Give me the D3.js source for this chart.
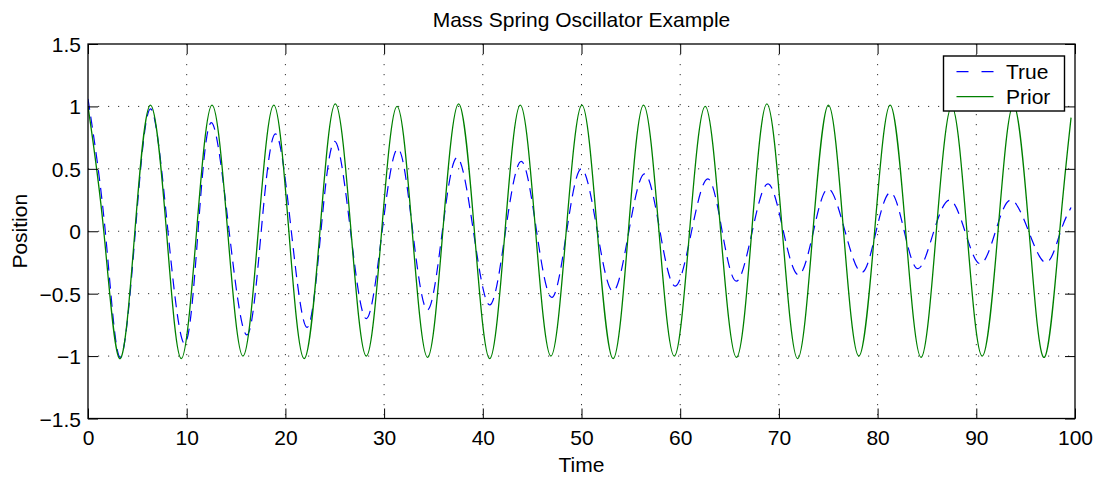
<!DOCTYPE html>
<html>
<head>
<meta charset="utf-8">
<script src="https://cdn.jsdelivr.net/npm/d3@7"></script>
<style>
  body { margin: 0; background: #fff; }
  svg text { font-family: "Liberation Sans", Arial, Helvetica, sans-serif; fill: #000; }
</style>
</head>
<body>
<svg id="chart"></svg>
<script>
// knots (extrema and zero crossings), time in s
const trueTime = [0, 1.75, 3.24,
    4.8, 6.35, 8.1, 9.8,
    11.15, 12.5, 14.3, 16.1,
    17.55, 19.0, 20.6, 22.2,
    23.6, 25.0, 26.6, 28.2,
    29.8, 31.4, 32.9, 34.4,
    35.9, 37.4, 39.05, 40.7,
    42.3, 43.9, 45.45, 47.0,
    48.5, 50.0, 51.6, 53.2,
    54.8, 56.4, 57.95, 59.5,
    61.15, 62.8, 64.25, 65.7,
    67.3, 68.9, 70.45, 72.0,
    73.5, 75.0, 76.7, 78.4,
    79.85, 81.3, 82.7, 84.1,
    85.7, 87.3, 88.85, 90.4,
    91.95, 93.5, 95.3, 97.1,
    98.55, 99.6];
const truePosition = [1.06, 0, -1.01,
    0, 0.98, 0, -0.90,
    0, 0.87, 0, -0.83,
    0, 0.78, 0, -0.77,
    0, 0.72, 0, -0.70,
    0, 0.66, 0, -0.63,
    0, 0.59, 0, -0.59,
    0, 0.56, 0, -0.53,
    0, 0.50, 0, -0.48,
    0, 0.46, 0, -0.44,
    0, 0.42, 0, -0.40,
    0, 0.38, 0, -0.35,
    0, 0.34, 0, -0.33,
    0, 0.31, 0, -0.30,
    0, 0.25, 0, -0.26,
    0, 0.25, 0, -0.25,
    0, 0.19];

const priorTime = [0, 1.6, 3.2, 4.75,
    6.33, 7.95, 9.45, 11.0,
    12.57, 14.15, 15.7, 17.25,
    18.82, 20.35, 21.9, 23.5,
    25.06, 26.65, 28.2, 29.75,
    31.31, 32.85, 34.4, 35.95,
    37.55, 39.15, 40.7, 42.25,
    43.8, 45.35, 46.9, 48.45,
    50.04, 51.6, 53.2, 54.75,
    56.29, 57.85, 59.4, 60.95,
    62.53, 64.1, 65.7, 67.25,
    68.78, 70.35, 71.9, 73.45,
    75.02, 76.55, 78.1, 79.7,
    81.27, 82.85, 84.4, 85.95,
    87.51, 89.05, 90.6, 92.2,
    93.76, 95.35, 96.9, 98.45,
    99.6];
const priorPosition = [1.0, 0, -1.02, 0,
    1.01, 0, -1.02, 0,
    1.01, 0, -1.0, 0,
    1.01, 0, -1.02, 0,
    1.02, 0, -1.0, 0,
    1.0, 0, -1.01, 0,
    1.02, 0, -1.02, 0,
    1.01, 0, -1.0, 0,
    1.01, 0, -1.02, 0,
    1.01, 0, -1.0, 0,
    1.0, 0, -1.01, 0,
    1.02, 0, -1.02, 0,
    1.01, 0, -1.0, 0,
    1.01, 0, -1.01, 0,
    1.0, 0, -1.0, 0,
    1.01, 0, -1.01, 0,
    0.91];

const xTicks = [0, 10, 20, 30, 40, 50, 60, 70, 80, 90, 100];
const yTicks = [-1.5, -1, -0.5, 0, 0.5, 1, 1.5];
const yTickLabels = ["\u22121.5", "\u22121", "\u22120.5", "0", "0.5", "1", "1.5"];
const legendLabels = ["True", "Prior"];

const width = 1097, height = 477;
const margin = {top: 44, right: 22, bottom: 58.5, left: 88};
const plotW = width - margin.left - margin.right;
const plotH = height - margin.top - margin.bottom;

const svg = d3.select("#chart").attr("width", width).attr("height", height);
const g = svg.append("g").attr("transform", `translate(${margin.left},${margin.top})`);

const x = d3.scaleLinear().domain([0, 100]).range([0, plotW]);
const y = d3.scaleLinear().domain([-1.5, 1.5]).range([plotH, 0]);

// dotted grid
g.append("g").selectAll("line")
    .data(xTicks.slice(1, -1))
    .join("line")
    .attr("x1", d => x(d)).attr("x2", d => x(d))
    .attr("y1", 0).attr("y2", plotH)
    .attr("stroke", "#333").attr("stroke-width", 1)
    .attr("stroke-dasharray", "1.2,8.8");
g.append("g").selectAll("line")
    .data(yTicks.slice(1, -1))
    .join("line")
    .attr("y1", d => y(d)).attr("y2", d => y(d))
    .attr("x1", 0).attr("x2", plotW)
    .attr("stroke", "#333").attr("stroke-width", 1)
    .attr("stroke-dasharray", "1.2,8.8");

g.append("clipPath").attr("id", "clip")
    .append("rect").attr("width", plotW).attr("height", plotH);

const line = d3.line()
    .x(d => x(d[0]))
    .y(d => y(d[1]))
    .curve(d3.curveNatural);

const lines = g.append("g").attr("clip-path", "url(#clip)").attr("fill", "none");
lines.append("path")
    .datum(d3.zip(trueTime, truePosition))
    .attr("stroke", "#0000ff")
    .attr("stroke-width", 1.2)
    .attr("stroke-dasharray", "11,7")
    .attr("d", line);
lines.append("path")
    .datum(d3.zip(priorTime, priorPosition))
    .attr("stroke", "#008000")
    .attr("stroke-width", 1.3)
    .attr("d", line);

// axes, ticks pointing inside
const axisFont = g => g.selectAll("text").style("font-size", "21px").attr("fill", "#000");
g.append("g")
    .attr("transform", `translate(0,${plotH})`)
    .call(d3.axisBottom(x).tickValues(xTicks).tickSizeInner(-10).tickSizeOuter(0).tickPadding(12))
    .call(g => g.select(".domain").remove())
    .call(axisFont);
g.append("g")
    .call(d3.axisTop(x).tickValues(xTicks).tickSizeInner(-10).tickSizeOuter(0).tickFormat(""))
    .call(g => g.select(".domain").remove());
g.append("g")
    .call(d3.axisLeft(y).tickValues(yTicks).tickSizeInner(-10).tickSizeOuter(0).tickPadding(7)
        .tickFormat((d, i) => yTickLabels[i]))
    .call(g => g.select(".domain").remove())
    .call(axisFont)
    .call(g => g.selectAll("text").attr("dy", "0.36em"));
g.append("g")
    .attr("transform", `translate(${plotW},0)`)
    .call(d3.axisRight(y).tickValues(yTicks).tickSizeInner(-10).tickSizeOuter(0).tickFormat(""))
    .call(g => g.select(".domain").remove());
g.selectAll(".tick line").attr("stroke", "#000").attr("stroke-width", 1);

g.append("rect")
    .attr("width", plotW).attr("height", plotH)
    .attr("fill", "none").attr("stroke", "#000").attr("stroke-width", 1.3);

// labels
svg.append("text")
    .attr("x", margin.left + plotW / 2).attr("y", 26.5)
    .attr("text-anchor", "middle").style("font-size", "21px")
    .text("Mass Spring Oscillator Example");
svg.append("text")
    .attr("x", margin.left + plotW / 2).attr("y", 472)
    .attr("text-anchor", "middle").style("font-size", "21px")
    .text("Time");
svg.append("text")
    .attr("transform", `translate(27,${margin.top + plotH / 2}) rotate(-90)`)
    .attr("text-anchor", "middle").style("font-size", "21px")
    .text("Position");

// legend
const legend = svg.append("g").attr("transform", "translate(943.5,56)");
legend.append("rect")
    .attr("width", 121).attr("height", 55)
    .attr("fill", "#fff").attr("stroke", "#000").attr("stroke-width", 1.4);
const legendColors = ["#0000ff", "#008000"];
const legendDash = ["12,13", null];
const item = legend.selectAll("g.item")
    .data(legendLabels)
    .join("g")
    .attr("class", "item")
    .attr("transform", (d, i) => `translate(0,${15.7 + i * 25})`);
item.append("line")
    .attr("x1", 13).attr("x2", 50)
    .attr("stroke", (d, i) => legendColors[i])
    .attr("stroke-width", 1.3)
    .attr("stroke-dasharray", (d, i) => legendDash[i]);
item.append("text")
    .attr("x", 62.5).attr("y", 7.6)
    .style("font-size", "21px")
    .text(d => d);
</script>
</body>
</html>
